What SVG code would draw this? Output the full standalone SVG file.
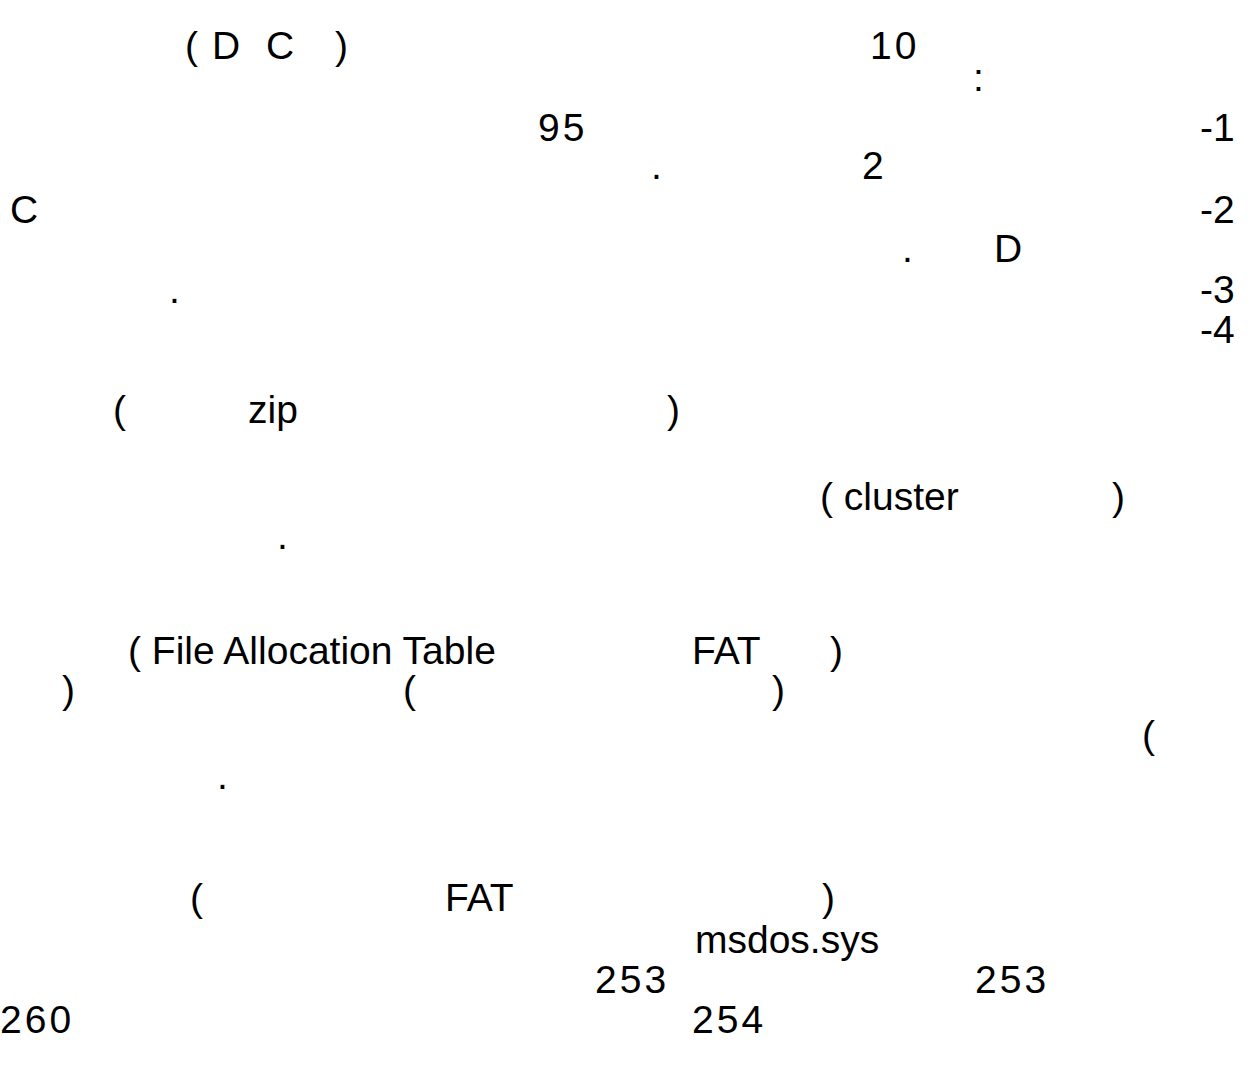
<svg xmlns="http://www.w3.org/2000/svg" width="1255" height="1079" viewBox="0 0 1255 1079">
<style>
text{font-family:"Liberation Sans",Arial,sans-serif;font-size:39px;fill:#000}
.num{letter-spacing:3px}
</style>
<rect width="1255" height="1079" fill="#fff"/>
<g id="line1"><text x="185" y="59">(</text><text x="212" y="59">D</text><text x="266" y="59">C</text><text x="335" y="59">)</text><text class="num" x="870" y="59">10</text></g>
<g id="line2"><text x="973" y="91">:</text></g>
<g id="line3"><text class="num" x="538" y="141">95</text><text x="1200" y="141">-1</text></g>
<g id="line4"><text x="651" y="179">.</text><text x="862" y="179">2</text></g>
<g id="line5"><text x="10" y="223">C</text><text x="1200" y="223">-2</text></g>
<g id="line6"><text x="902" y="262">.</text><text x="994" y="262">D</text></g>
<g id="line7"><text x="169" y="303">.</text><text x="1200" y="303">-3</text></g>
<g id="line8"><text x="1200" y="343">-4</text></g>
<g id="line9"><text x="113" y="423">(</text><text x="248" y="423">zip</text><text x="667" y="423">)</text></g>
<g id="line10"><text x="820" y="510">( cluster</text><text x="1112" y="510">)</text></g>
<g id="line11"><text x="277" y="549">.</text></g>
<g id="line12"><text x="128" y="664">( File Allocation Table</text><text x="692" y="664">FAT</text><text x="830" y="664">)</text></g>
<g id="line13"><text x="62" y="703">)</text><text x="403" y="703">(</text><text x="772" y="703">)</text></g>
<g id="line14"><text x="1142" y="748">(</text></g>
<g id="line15"><text x="217" y="789">.</text></g>
<g id="line16"><text x="190" y="911">(</text><text x="445" y="911">FAT</text><text x="822" y="911">)</text></g>
<g id="line17"><text x="695" y="953">msdos.sys</text></g>
<g id="line18"><text class="num" x="595" y="993">253</text><text class="num" x="975" y="993">253</text></g>
<g id="line19"><text class="num" x="0" y="1033">260</text><text class="num" x="692" y="1033">254</text></g>
</svg>
